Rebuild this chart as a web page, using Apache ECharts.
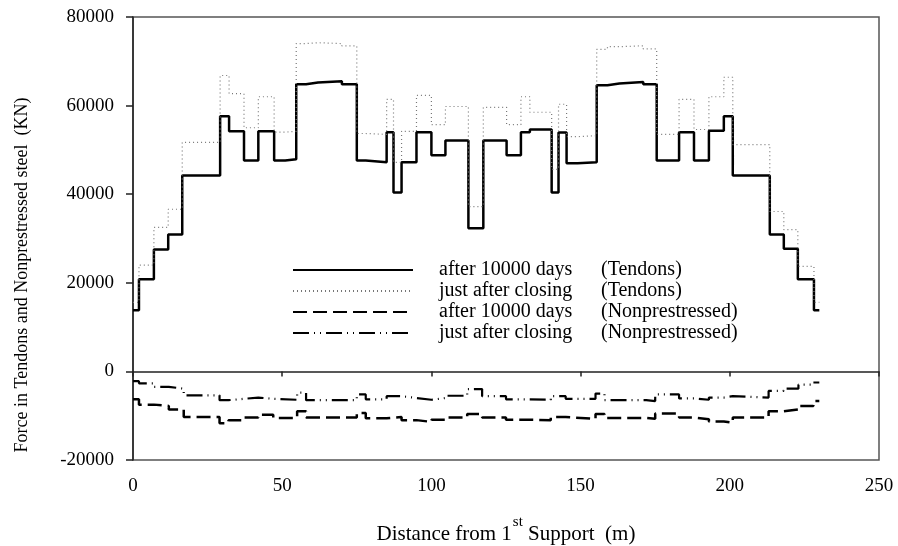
<!DOCTYPE html>
<html>
<head>
<meta charset="utf-8">
<script src="https://cdn.jsdelivr.net/npm/echarts@6/dist/echarts.min.js"></script>
<style>
  html, body { margin: 0; padding: 0; background: #fff; }
  #main { width: 898px; height: 546px; }
</style>
</head>
<body>
<div id="main"></div>
<script>
// step boundaries (m) for tendon forces
const tendonX = [0, 2, 7, 11.8, 16.5, 29.2, 32.2, 37.2, 42, 47.3, 51, 54.7, 58, 62, 70, 75, 78, 85, 87.3, 90,
  95, 100, 104.7, 112.4, 117.4, 125.2, 130, 133, 140.3, 142.6, 145.3, 149, 155.4, 159, 163, 171, 175.5,
  183, 188, 193, 198, 201, 213.4, 218.1, 222.8, 228.2, 230];

// after 10000 days (Tendons), one value per step
const tendonLong = [13800, 20800, 27500, 30900, 44200, 57600, 54200, 47600, 54200, 47600, 47900, 64800, 65200,
  65500, 64800, 47600, 47200, 54000, 40400, 47200, 54000, 48800, 52100, 32300, 52100, 48800, 54000, 54600,
  40400, 53900, 47000, 47200, 64600, 65000, 65300, 64800, 47600, 54000, 47600, 54300, 57600, 44200, 30900,
  27700, 20800, 13800];

// just after closing (Tendons)
const tendonInit = [15600, 24000, 32500, 36600, 51700, 66800, 62700, 55000, 62000, 54000, 54200, 74000, 74200,
  74000, 73500, 53700, 53500, 61400, 47200, 54200, 62300, 55700, 59800, 37200, 59600, 55700, 62000, 58500,
  45600, 60300, 53000, 53200, 72700, 73300, 73500, 72800, 53500, 61400, 54600, 62000, 66400, 51200, 36100,
  32000, 23700, 15600];

// step boundaries (m) for nonprestressed steel
const npX = [0, 2, 7, 12, 17, 29, 32, 37, 42, 47, 55, 58, 75, 78, 85, 90, 95, 100, 105, 112, 117, 125, 130,
  140, 145, 155, 158, 172, 175, 183, 188, 193, 198, 201, 213, 218, 223, 228, 230];

// after 10000 days (Nonprestressed)
const npLong = [-6300, -7500, -7800, -8600, -10300, -11700, -11000, -10400, -9800, -10500, -9000, -10400, -9400,
  -10600, -10300, -11000, -11400, -10900, -10400, -9600, -10400, -10900, -11000, -10300, -10700, -9600,
  -10500, -10700, -9500, -10400, -10800, -11300, -11600, -10400, -9000, -8600, -7800, -6700];

// just after closing (Nonprestressed)
const npInit = [-2200, -2700, -3500, -3900, -5400, -6500, -6200, -5900, -6200, -6400, -4800, -6500, -5200,
  -6300, -5600, -6000, -6400, -6000, -5500, -4000, -5600, -6300, -6400, -5600, -6200, -5000, -6500, -6700,
  -5200, -6100, -6400, -5900, -5600, -5900, -4400, -3900, -3000, -2500];

const xTicks = [0, 50, 100, 150, 200, 250];
const yTicks = [-20000, 0, 20000, 40000, 60000, 80000];

// turn step boundaries + values into points for step:'end'
function steps(xs, vals) {
  let pts = vals.map((v, i) => [xs[i], v]);
  pts.push([xs[xs.length - 1], vals[vals.length - 1]]);
  return pts;
}

const font = 'Liberation Serif';
let chart = echarts.init(document.getElementById('main'));

let option = {
  backgroundColor: '#fff',
  animation: false,
  grid: {
    left: 133, right: 19, top: 17, bottom: 86,
    outerBoundsMode: 'none',
    show: true, borderColor: '#555', borderWidth: 1.5
  },
  legend: {
    orient: 'vertical',
    left: 287,
    top: 255,
    itemWidth: 120,
    itemHeight: 14,
    itemGap: 1,
    selectedMode: false,
    itemStyle: { opacity: 0 },
    data: ['after 10000 days (Tendons)', 'just after closing (Tendons)',
      'after 10000 days (Nonprestressed)', 'just after closing (Nonprestressed)'],
    formatter: function (name) {
      let i = name.indexOf(' (');
      return '{s|}{a|' + name.slice(0, i) + '}{b|' + name.slice(i + 1) + '}';
    },
    textStyle: {
      fontFamily: font, fontSize: 20, color: '#000',
      rich: {
        s: { width: 21, lineHeight: 14 },
        a: { width: 162, fontFamily: font, fontSize: 20, lineHeight: 14 },
        b: { fontFamily: font, fontSize: 20, lineHeight: 14 }
      }
    }
  },
  xAxis: {
    type: 'value',
    min: 0, max: 250, interval: 50,
    name: '{a|Distance from 1}{s|st}{a| Support  (m)}',
    nameLocation: 'middle',
    nameGap: 55,
    nameTextStyle: {
      rich: {
        a: { fontFamily: font, fontSize: 21, color: '#000', verticalAlign: 'bottom' },
        s: { fontFamily: font, fontSize: 15, color: '#000', verticalAlign: 'top', padding: [0, 0, 15, 1] }
      }
    },
    axisLine: { lineStyle: { color: '#222', width: 1.5 } },
    axisTick: { inside: false, length: 5, lineStyle: { color: '#222', width: 1.5 } },
    axisLabel: { fontFamily: font, fontSize: 19, color: '#000', margin: 17,
      formatter: v => xTicks.includes(v) ? String(v) : '' },
    splitLine: { show: false }
  },
  yAxis: {
    type: 'value',
    min: -20000, max: 80000, interval: 20000,
    axisLine: { show: true, lineStyle: { color: '#222', width: 1.5 } },
    axisTick: { show: true, inside: false, length: 7, lineStyle: { color: '#222', width: 1.5 } },
    axisLabel: { fontFamily: font, fontSize: 19, color: '#000', margin: 19,
      formatter: v => yTicks.includes(v) ? String(v) : '' },
    splitLine: { show: false }
  },
  graphic: [{
    type: 'text',
    x: 22, y: 275,
    rotation: Math.PI / 2,
    style: {
      text: 'Force in Tendons and Nonprestressed steel  (KN)',
      font: '18px "Liberation Serif"',
      fill: '#000',
      textAlign: 'center',
      textVerticalAlign: 'middle'
    }
  }],
  series: [
    {
      name: 'after 10000 days (Tendons)',
      type: 'line', step: 'end', symbol: 'none',
      data: steps(tendonX, tendonLong),
      lineStyle: { color: '#000', width: 2.5, type: 'solid' },
      itemStyle: { color: '#000' }
    },
    {
      name: 'just after closing (Tendons)',
      type: 'line', step: 'end', symbol: 'none',
      data: steps(tendonX, tendonInit),
      lineStyle: { color: '#777', width: 1.2, type: [1, 3] },
      itemStyle: { color: '#777' }
    },
    {
      name: 'after 10000 days (Nonprestressed)',
      type: 'line', step: 'end', symbol: 'none',
      data: steps(npX, npLong),
      lineStyle: { color: '#000', width: 2.5, type: [14, 6] },
      itemStyle: { color: '#000' }
    },
    {
      name: 'just after closing (Nonprestressed)',
      type: 'line', step: 'end', symbol: 'none',
      data: steps(npX, npInit),
      lineStyle: { color: '#000', width: 2.2, type: [16, 5, 1, 5, 1, 5] },
      itemStyle: { color: '#000' }
    }
  ]
};

chart.setOption(option);
</script>
</body>
</html>
